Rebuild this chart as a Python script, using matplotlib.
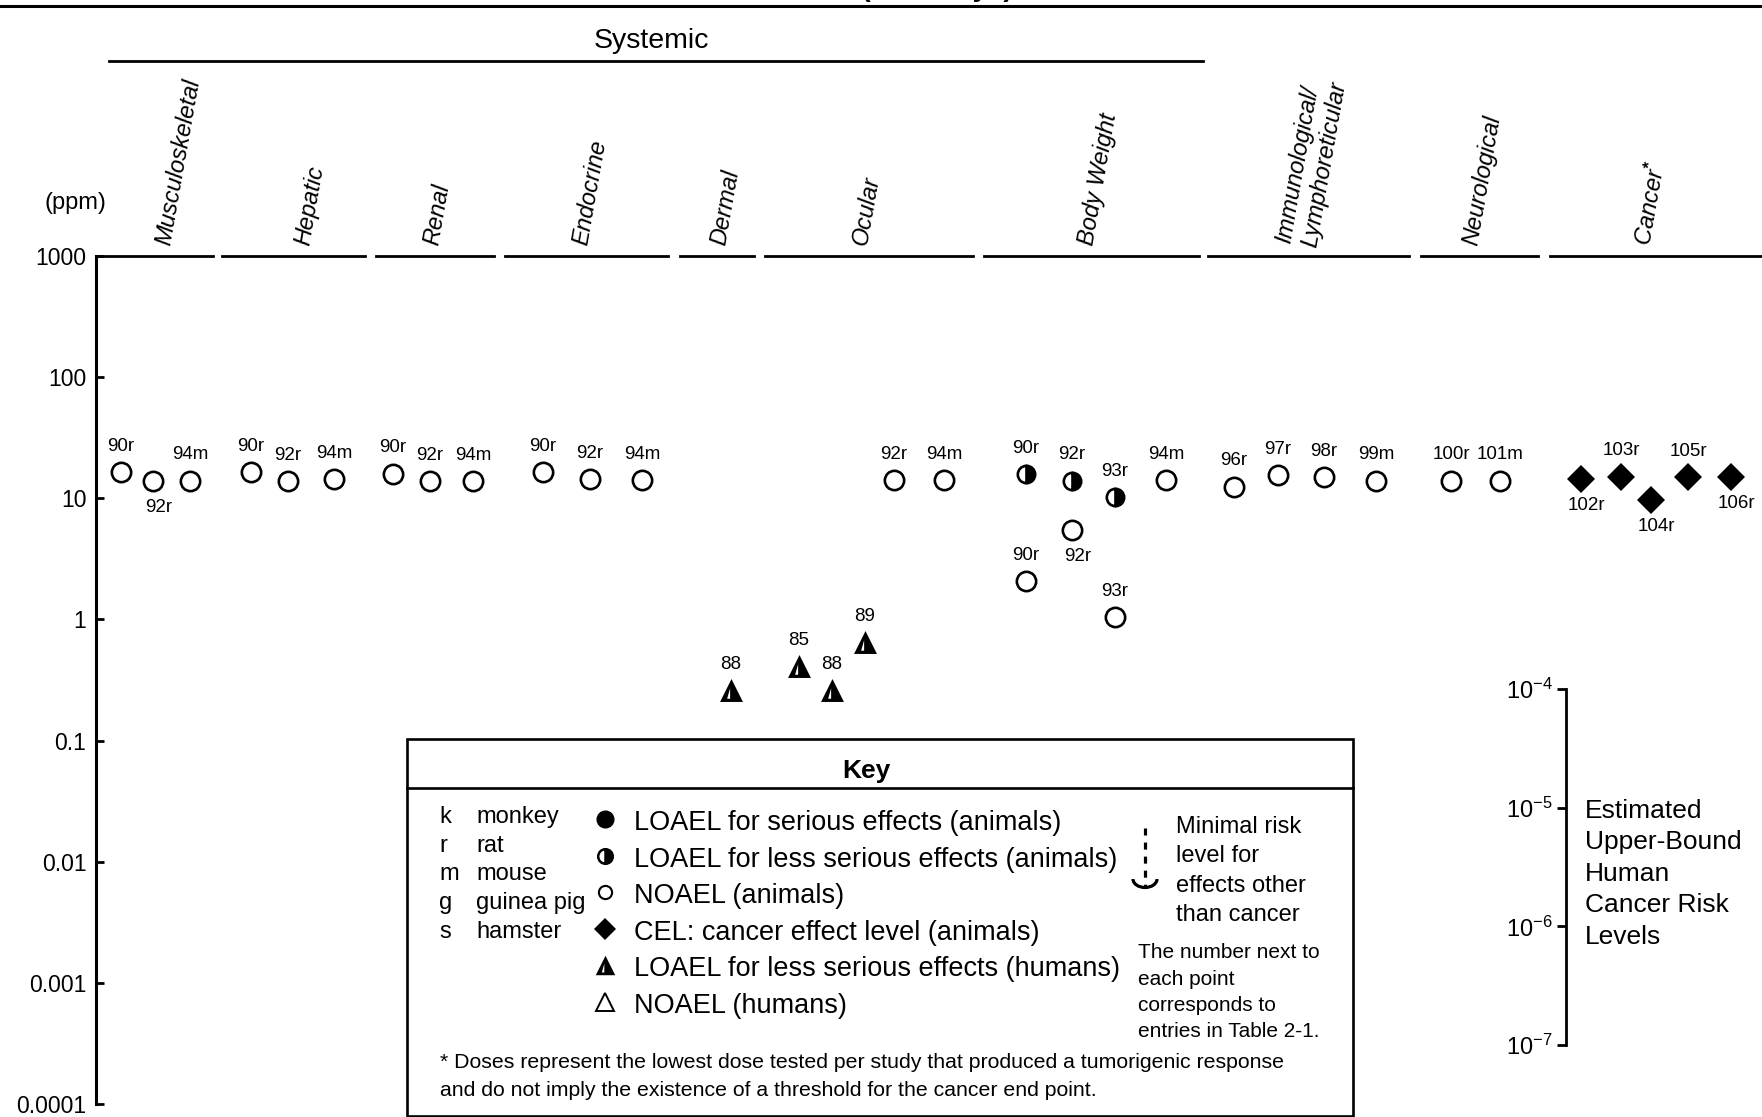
import matplotlib.pyplot as plt
from matplotlib.path import Path
from matplotlib.patches import Arc, Rectangle
from matplotlib import ticker

plt.rcParams["font.family"] = ["Liberation Sans", "DejaVu Sans"]
plt.rcParams["mathtext.fontset"] = "custom"
plt.rcParams["mathtext.rm"] = "Liberation Sans"
plt.rcParams["mathtext.it"] = "Liberation Sans:italic"
plt.rcParams["mathtext.bf"] = "Liberation Sans:bold"

# ---- data ---------------------------------------------------------------
categories = ["Musculoskeletal", "Hepatic", "Renal", "Endocrine", "Dermal",
              "Ocular", "Body Weight", "Immunological/\nLymphoreticular",
              "Neurological", r"Cancer$^{\mathbf{*}}$"]

point_label = ["90r", "92r", "94m",
               "90r", "92r", "94m",
               "90r", "92r", "94m",
               "90r", "92r", "94m",
               "88",
               "85", "88", "89", "92r", "94m",
               "90r", "92r", "93r", "94m", "92r", "90r", "93r",
               "96r", "97r", "98r", "99m",
               "100r", "101m",
               "102r", "103r", "104r", "105r", "106r"]
point_ppm = [16.5, 13.9, 14.0,
             16.5, 13.9, 14.3,
             16.0, 13.8, 13.8,
             16.5, 14.3, 14.1,
             0.26,
             0.41, 0.26, 0.65, 14.1, 14.1,
             15.8, 14.0, 10.3, 14.1, 5.5, 2.07, 1.04,
             12.5, 15.5, 14.9, 14.0,
             14.0, 14.0,
             14.4, 15.1, 9.7, 14.9, 14.9]
# N = NOAEL animals, L = LOAEL less serious animals, C = CEL, H = LOAEL humans
point_effect = ["N"] * 12 + ["H"] + ["H", "H", "H", "N", "N"] + \
               ["L", "L", "L", "N", "N", "N", "N"] + ["N"] * 6 + ["C"] * 5

y_ticks = [1000, 100, 10, 1, 0.1, 0.01, 0.001, 0.0001]
y_tick_labels = ["1000", "100", "10", "1", "0.1", "0.01", "0.001", "0.0001"]
risk_levels = [1e-4, 1e-5, 1e-6, 1e-7]

species_code = ["k", "r", "m", "g", "s"]
species_name = ["monkey", "rat", "mouse", "guinea pig", "hamster"]
key_effects = ["LOAEL for serious effects (animals)",
               "LOAEL for less serious effects (animals)",
               "NOAEL (animals)",
               "CEL: cancer effect level (animals)",
               "LOAEL for less serious effects (humans)",
               "NOAEL (humans)"]

# ---- layout (pixels) ----------------------------------------------------
W, H = 1762, 1117
AX_LEFT, AX_TOP, AX_BOTTOM = 96, 256, 1104
# column of each point, pixels right of the y axis
point_col = [25, 57, 94, 155, 192, 238, 297, 334, 377, 447, 494, 546,
             635, 703, 736, 769, 798, 848,
             930, 976, 1019, 1070, 976, 930, 1019,
             1138, 1182, 1228, 1280, 1355, 1404,
             1485, 1525, 1555, 1592, 1635]
label_below = {1, 22, 31, 33, 35}
header_segments = [(96, 213), (222, 365), (376, 494), (505, 668), (680, 754),
                   (765, 973), (984, 1199), (1208, 1409), (1421, 1538),
                   (1550, 1762)]
header_text_x = [164, 303, 432, 581, 719, 860, 1087, 1297, 1471, 1643]

# markers
tri_path = Path([(-1, -1), (1, -1), (0, 1), (-1, -1),
                 (-0.38, -0.72), (-0.12, 0.2), (-0.12, -0.72), (-0.38, -0.72)],
                [Path.MOVETO, Path.LINETO, Path.LINETO, Path.CLOSEPOLY] * 2)
styles = {
    "N": dict(marker="o", markersize=13.9, markerfacecolor="white",
              markeredgecolor="black", markeredgewidth=1.9),
    "L": dict(marker="o", markersize=12.5, fillstyle="right",
              markerfacecolor="black", markerfacecoloralt="white",
              markeredgecolor="black", markeredgewidth=1.9),
    "C": dict(marker="D", markersize=14.5, markerfacecolor="black",
              markeredgecolor="black", markeredgewidth=0),
    "H": dict(marker=tri_path, markersize=16.5, markerfacecolor="black",
              markeredgecolor="black", markeredgewidth=0),
}

fig = plt.figure(figsize=(W / 100, H / 100), dpi=100)

# overlay in pixel coordinates for frame lines and key
deco = fig.add_axes([0, 0, 1, 1])
deco.set_xlim(0, W)
deco.set_ylim(H, 0)
deco.axis("off")

ax = fig.add_axes([AX_LEFT / W, 1 - AX_BOTTOM / H, 1 - AX_LEFT / W,
                   (AX_BOTTOM - AX_TOP) / H])
ax.patch.set_visible(False)
ax.set_yscale("log")
ax.set_ylim(1e-4, 1e3)
ax.set_xlim(0, W - AX_LEFT)
for s in ["top", "right", "bottom"]:
    ax.spines[s].set_visible(False)
ax.spines["left"].set_linewidth(2.2)
ax.set_xticks([])
ax.set_yticks(y_ticks)
ax.set_yticklabels(y_tick_labels)
ax.yaxis.set_minor_locator(ticker.NullLocator())
ax.tick_params(axis="y", direction="in", length=6, width=2, labelsize=16.5, pad=7)

for i, (x, v, lab, eff) in enumerate(zip(point_col, point_ppm, point_label, point_effect)):
    ax.plot([x], [v], linestyle="none", clip_on=False, zorder=3, **styles[eff])
    if i in label_below:
        off = (4, -19)
    else:
        off = (0, 18.5)
    ax.annotate(lab, (x, v), xytext=off, textcoords="offset points",
                ha="center", va="center", fontsize=13.5, annotation_clip=False)

# frame lines and headings (title sits above the page edge, only its foot shows)
deco.text(1013, -4, "Chronic (≥365 days)", ha="right", va="baseline",
          fontsize=20, fontweight="bold")
deco.plot([0, W], [6, 6], color="black", lw=2.2)
deco.text(651, 41, "Systemic", ha="center", va="center", fontsize=20.5)
deco.plot([109, 1203], [61, 61], color="black", lw=2)
for (x0, x1), tx, name in zip(header_segments, header_text_x, categories):
    deco.plot([x0, x1], [AX_TOP, AX_TOP], color="black", lw=2)
    deco.text(tx, 245, name, rotation=80, rotation_mode="anchor", ha="left",
              va="center", fontsize=17, style="italic", multialignment="left")
deco.text(75, 203, "(ppm)", ha="center", va="center", fontsize=17)

# cancer risk scale
rax = fig.add_axes([1566 / W, 1 - 1045 / H, 0.001, (1045 - 689) / H])
rax.patch.set_visible(False)
rax.set_yscale("log")
rax.set_ylim(1e-7, 1e-4)
for s in ["top", "right", "bottom"]:
    rax.spines[s].set_visible(False)
rax.spines["left"].set_linewidth(2)
rax.set_xticks([])
rax.set_yticks(risk_levels)
rax.yaxis.set_minor_locator(ticker.NullLocator())
rax.tick_params(axis="y", direction="out", length=6.5, width=2, labelsize=17, pad=3)
deco.text(1585, 799, "Estimated\nUpper-Bound\nHuman\nCancer Risk\nLevels",
          ha="left", va="top", fontsize=19, linespacing=1.39)

# key box
deco.add_patch(Rectangle((407, 739), 946, 377, fill=False, lw=1.9, ec="black"))
deco.plot([407, 1353], [788, 788], color="black", lw=1.9)
deco.text(866, 771, "Key", ha="center", va="center", fontsize=19, fontweight="bold")
for k, (code, name) in enumerate(zip(species_code, species_name)):
    yy = 817 + 28.7 * k
    deco.text(439, yy, code, ha="left", va="center", fontsize=17)
    deco.text(476, yy, name, ha="left", va="center", fontsize=17)

key_styles = [
    dict(marker="o", markersize=12, markerfacecolor="black", markeredgecolor="black"),
    dict(marker="o", markersize=10.5, fillstyle="right", markerfacecolor="black",
         markerfacecoloralt="white", markeredgecolor="black", markeredgewidth=1.8),
    dict(marker="o", markersize=9.5, markerfacecolor="white", markeredgecolor="black",
         markeredgewidth=1.5),
    dict(marker="D", markersize=11.5, markerfacecolor="black", markeredgewidth=0),
    dict(marker=tri_path, markersize=14, markerfacecolor="black", markeredgewidth=0),
    dict(marker="^", markersize=13, markerfacecolor="white", markeredgecolor="black",
         markeredgewidth=1.4),
]
for k, (txt, st) in enumerate(zip(key_effects, key_styles)):
    yy = 823 + 36.6 * k
    deco.plot([605], [yy - 4], linestyle="none", **st)
    deco.text(634, yy, txt, ha="left", va="center", fontsize=19.5)

deco.plot([1145, 1145], [828, 886], color="black", lw=2.3, linestyle=(0, (2.2, 2.2)))
deco.add_patch(Arc((1145, 879), 24, 17, theta1=0, theta2=180, lw=2.3, color="black"))
for k, txt in enumerate(["Minimal risk", "level for", "effects other", "than cancer"]):
    deco.text(1176, 827 + 29.3 * k, txt, ha="left", va="center", fontsize=17)
for k, txt in enumerate(["The number next to", "each point", "corresponds to",
                         "entries in Table 2-1."]):
    deco.text(1138, 953 + 26.3 * k, txt, ha="left", va="center", fontsize=15)
deco.text(440, 1063, "* Doses represent the lowest dose tested per study that produced a tumorigenic response",
          ha="left", va="center", fontsize=15.3)
deco.text(440, 1090, "and do not imply the existence of a threshold for the cancer end point.",
          ha="left", va="center", fontsize=15.3)

fig.savefig("out.png", dpi=100)
